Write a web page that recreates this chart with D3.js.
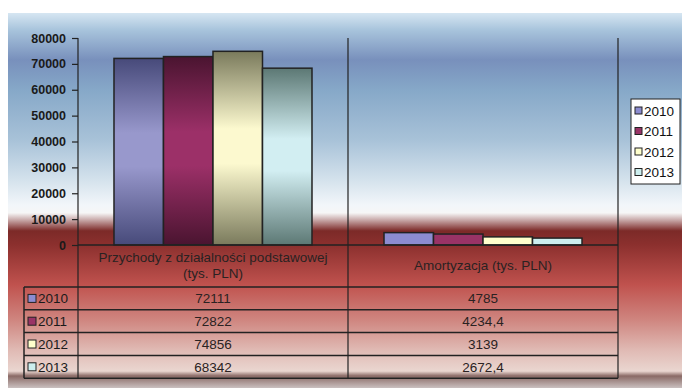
<!DOCTYPE html>
<html>
<head>
<meta charset="utf-8">
<script src="https://cdn.jsdelivr.net/npm/d3@7"></script>
<style>
  html, body { margin: 0; padding: 0; background: #fff; }
  svg { display: block; font-family: "Liberation Sans", Arial, sans-serif; }
</style>
</head>
<body>
<svg id="chart" width="682" height="388"></svg>
<script>
// Data
const categories = ["Przychody z działalności podstawowej (tys. PLN)", "Amortyzacja (tys. PLN)"];
const years = ["2010", "2011", "2012", "2013"];
const values2010 = [72111, 4785];
const values2011 = [72822, 4234.4];
const values2012 = [74856, 3139];
const values2013 = [68342, 2672.4];
const yTicks = [0, 10000, 20000, 30000, 40000, 50000, 60000, 70000, 80000];

const seriesValues = [values2010, values2011, values2012, values2013];

// Colours per year: flat tone, lightest gradient tone, darkest gradient tone
const baseColors = ["#8c8cd0", "#993366", "#ffffcc", "#cceeee"];
const lightColors = ["#9898cc", "#9c3068", "#fcf9cf", "#d2eef2"];
const darkColors = ["#474a7a", "#4a1430", "#7a7a5c", "#5c7874"];

const svg = d3.select("#chart");
const W = 682, H = 388;

// Layout
const plot = { left: 78, right: 618, top: 38, bottom: 245 };
const tableLeft = 24;
const headerBottom = 287;
const rowH = 22.8;

const defs = svg.append("defs");

// Page background band
const bg = defs.append("linearGradient")
  .attr("id", "bgGrad").attr("x1", 0).attr("y1", 0).attr("x2", 0).attr("y2", 1);
[
  [0.000, "#d6e6f2"], [0.045, "#a8c4dc"], [0.125, "#7890bc"], [0.205, "#86a8c8"],
  [0.339, "#a8c2d8"], [0.445, "#d4e2ec"], [0.512, "#f2f6fa"], [0.533, "#f6f6f6"],
  [0.552, "#c8a8a8"], [0.581, "#7c2a28"], [0.619, "#8c302e"], [0.725, "#c0524e"],
  [0.819, "#cf8680"], [0.899, "#e0bab4"], [0.955, "#ead6d0"], [0.968, "#8a6a66"],
  [1.000, "#cac0c0"]
].forEach(([o, c]) => bg.append("stop").attr("offset", o).attr("stop-color", c));

svg.append("rect")
  .attr("x", 8).attr("y", 13).attr("width", W - 8).attr("height", H - 13)
  .attr("fill", "url(#bgGrad)");

// Bar gradients (dark - light - dark)
years.forEach((y, i) => {
  const g = defs.append("linearGradient")
    .attr("id", "barGrad" + i).attr("x1", 0).attr("y1", 0).attr("x2", 0).attr("y2", 1);
  g.append("stop").attr("offset", 0).attr("stop-color", darkColors[i]);
  g.append("stop").attr("offset", 0.4).attr("stop-color", lightColors[i]);
  g.append("stop").attr("offset", 0.58).attr("stop-color", lightColors[i]);
  g.append("stop").attr("offset", 1).attr("stop-color", darkColors[i]);
});

// Scales
const x0 = d3.scaleBand()
  .domain(categories)
  .range([plot.left, plot.right])
  .paddingInner(0.2667)
  .paddingOuter(0.1333);

const x1 = d3.scaleBand()
  .domain(years)
  .range([0, x0.bandwidth()]);

const y = d3.scaleLinear()
  .domain([0, 80000])
  .range([plot.bottom, plot.top]);

const lineColor = "#222";

// Bars
const groups = svg.append("g").selectAll("g")
  .data(categories)
  .join("g")
  .attr("transform", d => `translate(${x0(d)},0)`);

groups.selectAll("rect")
  .data((c, ci) => years.map((yr, si) => ({ yr, si, v: seriesValues[si][ci] })))
  .join("rect")
  .attr("x", d => x1(d.yr))
  .attr("y", d => y(d.v))
  .attr("width", x1.bandwidth())
  .attr("height", d => y(0) - y(d.v))
  .attr("fill", d => (y(0) - y(d.v)) > 40 ? `url(#barGrad${d.si})` : baseColors[d.si])
  .attr("stroke", lineColor)
  .attr("stroke-width", 1.5);

// Y axis
const yAxis = d3.axisLeft(y)
  .tickValues(yTicks)
  .tickSize(6)
  .tickPadding(6)
  .tickFormat(d3.format("d"));

const yg = svg.append("g")
  .attr("transform", `translate(${plot.left},0)`)
  .call(yAxis);
yg.select(".domain").remove();
yg.selectAll(".tick line").attr("stroke", lineColor).attr("stroke-width", 1.2);
yg.selectAll(".tick text")
  .attr("fill", "#1a1a1a")
  .style("font-size", "12.5px")
  .style("font-weight", "bold");

const tableBottom = headerBottom + rowH * years.length;

// Vertical rules (axis, category separator, right edge) running through the table
const vRules = [plot.left, x0(categories[1]) - x0.step() * x0.paddingInner() / 2, plot.right];
svg.append("g").selectAll("line")
  .data(vRules)
  .join("line")
  .attr("x1", d => d).attr("x2", d => d)
  .attr("y1", plot.top).attr("y2", tableBottom)
  .attr("stroke", lineColor).attr("stroke-width", 1.2);

// Baseline
svg.append("line")
  .attr("x1", plot.left).attr("x2", plot.right)
  .attr("y1", y(0)).attr("y2", y(0))
  .attr("stroke", lineColor).attr("stroke-width", 1.5);

// Data table horizontal rules
const hRules = d3.range(years.length + 1).map(i => headerBottom + i * rowH);
svg.append("g").selectAll("line")
  .data(hRules)
  .join("line")
  .attr("x1", tableLeft).attr("x2", plot.right)
  .attr("y1", d => d).attr("y2", d => d)
  .attr("stroke", lineColor).attr("stroke-width", 1.5);

svg.append("line")
  .attr("x1", tableLeft).attr("x2", tableLeft)
  .attr("y1", headerBottom).attr("y2", tableBottom)
  .attr("stroke", lineColor).attr("stroke-width", 1.5);

// Column headers, wrapped to the column width
const headerFont = 13.5;
const header = svg.append("g")
  .style("font-size", headerFont + "px")
  .attr("fill", "#2a2222")
  .attr("text-anchor", "middle");

categories.forEach(cat => {
  const cx = x0(cat) + x0.bandwidth() / 2;
  const maxW = x0.step() - 26;
  const words = cat.split(" ");
  const probe = header.append("text").attr("x", -1000).attr("y", -1000);
  const lines = [];
  let cur = "";
  words.forEach(w => {
    const test = cur ? cur + " " + w : w;
    probe.text(test);
    if (probe.node().getComputedTextLength() > maxW && cur) {
      lines.push(cur);
      cur = w;
    } else {
      cur = test;
    }
  });
  lines.push(cur);
  probe.remove();
  const lh = 16;
  const midY = (y(0) + headerBottom) / 2 - 1;
  const startY = midY - (lines.length - 1) * lh / 2;
  const t = header.append("text").attr("x", cx);
  lines.forEach((ln, i) => {
    t.append("tspan")
      .attr("x", cx)
      .attr("y", startY + i * lh)
      .attr("dy", "0.35em")
      .text(ln);
  });
});

// Table rows
const fmtPL = v => Number.isInteger(v) ? String(v) : String(v).replace(".", ",");
const rows = svg.append("g").selectAll("g")
  .data(years)
  .join("g")
  .attr("transform", (d, i) => `translate(0,${headerBottom + i * rowH + rowH / 2})`);

rows.append("rect")
  .attr("x", 28).attr("y", -4).attr("width", 8).attr("height", 8)
  .attr("fill", (d, i) => baseColors[i])
  .attr("stroke", lineColor).attr("stroke-width", 1);

rows.append("text")
  .attr("x", 38).attr("dy", "0.36em")
  .style("font-size", "13.5px")
  .attr("fill", "#1a1a1a")
  .text(d => d);

rows.selectAll("text.val")
  .data((d, i) => categories.map((c, ci) => ({ c, v: seriesValues[i][ci] })))
  .join("text")
  .attr("class", "val")
  .attr("x", d => x0(d.c) + x0.bandwidth() / 2)
  .attr("dy", "0.35em")
  .attr("text-anchor", "middle")
  .style("font-size", "13.5px")
  .attr("fill", "#2a2222")
  .text(d => fmtPL(d.v));

// Legend
const legend = svg.append("g");
legend.append("rect")
  .attr("x", 631).attr("y", 99).attr("width", 49).attr("height", 85)
  .attr("fill", "#fff").attr("stroke", lineColor).attr("stroke-width", 1);

const li = legend.selectAll("g.item")
  .data(years)
  .join("g")
  .attr("class", "item")
  .attr("transform", (d, i) => `translate(0,${111 + i * 20.5})`);

li.append("rect")
  .attr("x", 635).attr("y", -4).attr("width", 7).attr("height", 7)
  .attr("fill", (d, i) => baseColors[i])
  .attr("stroke", lineColor).attr("stroke-width", 1);

li.append("text")
  .attr("x", 644).attr("dy", "0.36em")
  .style("font-size", "13.5px")
  .attr("fill", "#111")
  .text(d => d);
</script>
</body>
</html>
